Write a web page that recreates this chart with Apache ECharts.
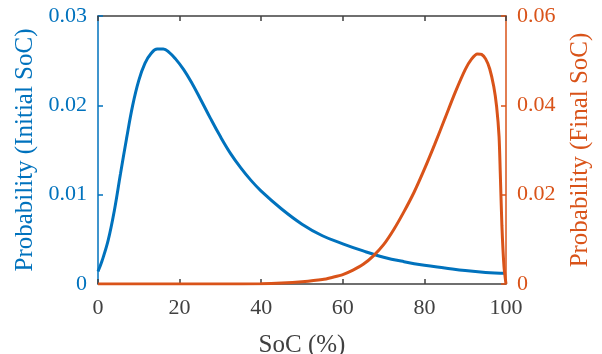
<!DOCTYPE html>
<html>
<head>
<meta charset="utf-8">
<script src="https://cdn.jsdelivr.net/npm/echarts@6/dist/echarts.min.js"></script>
<style>
html,body{margin:0;padding:0;background:#fff;}
#chart{width:602px;height:354px;}
</style>
</head>
<body>
<div id="chart"></div>
<script>
// SoC values (%) and probability densities
var initialSoC = [0,1,2.5,4,5.5,7,8.5,10,11.5,13,14.5,16,17.5,19,21,23,25,27.5,30,32.5,35,37.5,40,45,50,55,60,65,70,75,80,85,90,95,100];
var initialProb = [0.0014,0.0026,0.0049,0.0082,0.0123,0.0163,0.0200,0.0228,0.0247,0.0258,0.0263,0.0263,0.0259,0.0252,0.0240,0.0225,0.0208,0.0186,0.0165,0.0146,0.0130,0.0116,0.0104,0.0084,0.0067,0.0054,0.0045,0.0037,0.0030,0.0025,0.0021,0.0018,0.0015,0.0013,0.0012];

var finalSoC = [0,10,20,30,40,45,50,55,57.5,60,62.5,65,67.5,70,72.5,75,77.5,80,82.5,85,87.5,90,91.5,93,94,95,96,97,97.7,98.3,98.6,99,99.5,100];
var finalProb = [0,0,0,0,0.00005,0.0002,0.0005,0.0010,0.0015,0.0021,0.0031,0.0044,0.0063,0.0088,0.0122,0.0162,0.0206,0.0257,0.0312,0.0370,0.0428,0.0480,0.0503,0.0515,0.0514,0.0504,0.0482,0.0442,0.0397,0.0330,0.0248,0.0130,0.0040,0];

var xTicks = [0,20,40,60,80,100];
var leftTicks = [0,0.01,0.02,0.03];
var rightTicks = [0,0.02,0.04,0.06];

var blue = '#0072BD', orange = '#D95319', gray = '#404040';
var font = 'Liberation Serif';

function pairs(xs, ys){ return xs.map(function(x,i){ return [x, ys[i]]; }); }

var chart = echarts.init(document.getElementById('chart'), null, {renderer:'canvas'});
chart.setOption({
  animation:false,
  backgroundColor:'#fff',
  textStyle:{fontFamily:font},
  grid:{left:98,right:96,top:16,bottom:70,containLabel:false,outerBoundsMode:'none'},
  xAxis:[{
    type:'value', position:'bottom', min:xTicks[0], max:xTicks[xTicks.length-1], interval:20,
    name:'SoC (%)', nameLocation:'middle', nameGap:49,
    nameTextStyle:{fontFamily:font,fontSize:25,color:gray},
    axisLine:{show:true,onZero:false,lineStyle:{color:gray,width:1.5}},
    axisTick:{show:true,inside:true,length:5,lineStyle:{color:gray,width:1.5}},
    axisLabel:{fontFamily:font,fontSize:22,color:gray,margin:13},
    splitLine:{show:false}
  },{
    type:'value', position:'top', min:xTicks[0], max:xTicks[xTicks.length-1], interval:20,
    axisLine:{show:true,onZero:false,lineStyle:{color:gray,width:1.5}},
    axisTick:{show:true,inside:true,length:5,lineStyle:{color:gray,width:1.5}},
    axisLabel:{show:false},
    splitLine:{show:false}
  }],
  yAxis:[{
    type:'value', position:'left', min:leftTicks[0], max:leftTicks[leftTicks.length-1], interval:0.01,
    name:'Probability (Initial SoC)', nameLocation:'middle', nameGap:58,
    nameTextStyle:{fontFamily:font,fontSize:25,color:blue},
    axisLine:{show:true,onZero:false,lineStyle:{color:blue,width:1.5}},
    axisTick:{show:true,inside:true,length:5,lineStyle:{color:blue,width:1.5}},
    axisLabel:{fontFamily:font,fontSize:22,color:blue,margin:11},
    splitLine:{show:false}
  },{
    type:'value', position:'right', min:rightTicks[0], max:rightTicks[rightTicks.length-1], interval:0.02,
    name:'Probability (Final SoC)', nameLocation:'middle', nameGap:62,
    nameTextStyle:{fontFamily:font,fontSize:25,color:orange},
    axisLine:{show:true,onZero:false,lineStyle:{color:orange,width:1.5}},
    axisTick:{show:true,inside:true,length:5,lineStyle:{color:orange,width:1.5}},
    axisLabel:{fontFamily:font,fontSize:22,color:orange,margin:11},
    splitLine:{show:false}
  }],
  series:[{
    type:'line', xAxisIndex:0, yAxisIndex:0, data:pairs(initialSoC, initialProb),
    showSymbol:false, smooth:0.4, lineStyle:{color:blue,width:3}, itemStyle:{color:blue}
  },{
    type:'line', xAxisIndex:0, yAxisIndex:1, data:pairs(finalSoC, finalProb),
    showSymbol:false, smooth:0.25, lineStyle:{color:orange,width:3}, itemStyle:{color:orange}
  }]
});
</script>
</body>
</html>
